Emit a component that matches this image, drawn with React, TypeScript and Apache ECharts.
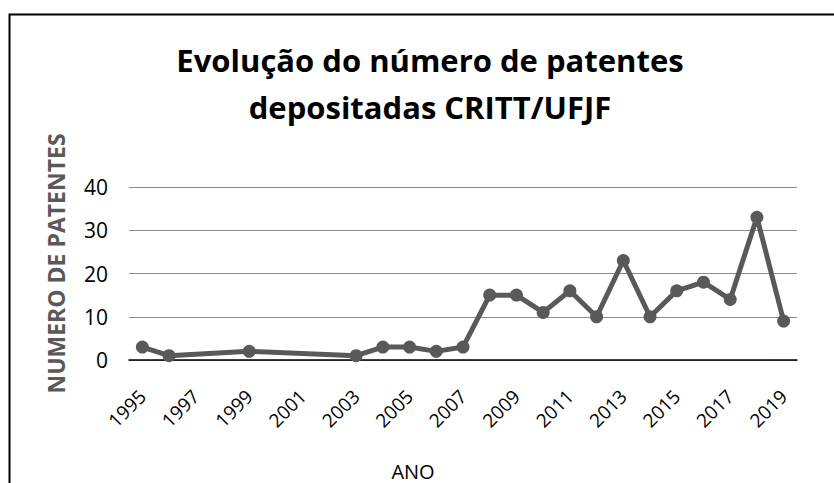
import React, { useEffect, useRef } from "react";
import * as echarts from "echarts";

const years = [
  "1995", "1996", "1997", "1998", "1999", "2000", "2001", "2002", "2003", "2004",
  "2005", "2006", "2007", "2008", "2009", "2010", "2011", "2012", "2013", "2014",
  "2015", "2016", "2017", "2018", "2019",
];
const patents: (number | null)[] = [
  3, 1, null, null, 2, null, null, null, 1, 3,
  3, 2, 3, 15, 15, 11, 16, 10, 23, 10,
  16, 18, 14, 33, 9,
];
const titleText = "Evolução do número de patentes\ndepositadas CRITT/UFJF";
const yAxisName = "NUMERO DE PATENTES";
const xAxisName = "ANO";

const FONT = "'Open Sans', 'Noto Sans', sans-serif";

export default function App() {
  const ref = useRef<HTMLDivElement>(null);
  useEffect(() => {
    if (!ref.current) return;
    const chart = echarts.init(ref.current, undefined, { renderer: "svg" });
    chart.setOption({
      animation: false,
      backgroundColor: "#ffffff",
      title: {
        text: titleText,
        left: 425,
        textAlign: "center",
        top: 31,
        textStyle: {
          fontFamily: FONT,
          fontWeight: "bold",
          fontSize: 31,
          lineHeight: 47,
          color: "#000000",
        },
      },
      graphic: [
        {
          type: "rect",
          shape: { x: 9.5, y: 14.5, width: 900, height: 600 },
          style: { fill: "none", stroke: "#000000", lineWidth: 2 },
          silent: true,
        },
      ],
      grid: {
        left: 129,
        right: 37,
        top: 187,
        bottom: 123,
        containLabel: false,
        outerBoundsMode: "none",
      },
      xAxis: {
        type: "category",
        data: years,
        boundaryGap: true,
        name: xAxisName,
        nameLocation: "middle",
        nameGap: 100,
        nameTextStyle: {
          fontFamily: FONT,
          fontSize: 20,
          lineHeight: 22,
          color: "#000000",
          padding: [0, 100, 0, 0],
        },
        axisLine: { lineStyle: { color: "#000000", width: 1.5 } },
        axisTick: { show: false },
        axisLabel: {
          interval: 1,
          rotate: 45,
          margin: 33,
          fontFamily: FONT,
          fontSize: 19,
          color: "#000000",
        },
      },
      yAxis: {
        type: "value",
        min: 0,
        max: 40,
        interval: 10,
        name: yAxisName,
        nameLocation: "middle",
        nameGap: 62,
        nameRotate: 90,
        nameTextStyle: {
          fontFamily: FONT,
          fontSize: 23,
          fontWeight: "bold",
          color: "#595959",
          padding: [0, 0, 0, 20],
        },
        axisLine: { show: false },
        axisTick: { show: false },
        axisLabel: {
          margin: 21,
          fontFamily: FONT,
          fontSize: 21,
          color: "#000000",
        },
        splitLine: { lineStyle: { color: "#8c8c8c", width: 1.2 } },
      },
      series: [
        {
          type: "line",
          data: patents,
          connectNulls: true,
          symbol: "circle",
          symbolSize: 13,
          itemStyle: { color: "#595959" },
          lineStyle: { color: "#595959", width: 5 },
        },
      ],
    });
    return () => chart.dispose();
  }, []);
  return (
    <div
      ref={ref}
      style={{ position: "fixed", left: 0, top: 0, width: 834, height: 483 }}
    />
  );
}
